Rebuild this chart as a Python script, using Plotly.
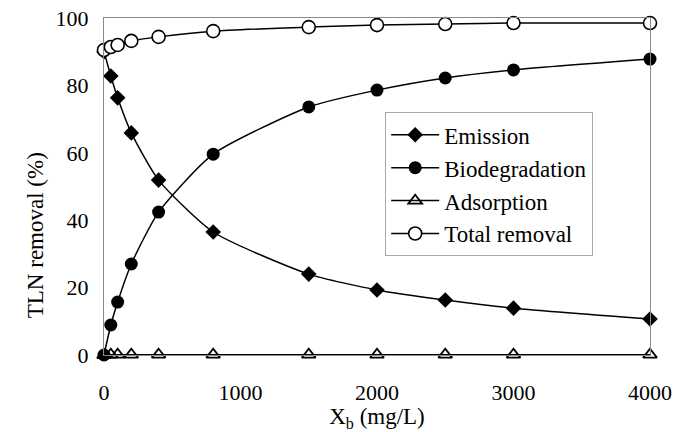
import plotly.graph_objects as go

# Biomass concentration (mg/L)
xb = [0, 50, 100, 200, 400, 800, 1500, 2000, 2500, 3000, 4000]

# TLN fate (%)
emission = [90.0, 82.8, 76.3, 65.9, 51.9, 36.5, 24.0, 19.3, 16.3, 13.9, 10.7]
biodegradation = [0.0, 8.9, 15.7, 27.0, 42.4, 59.6, 73.6, 78.6, 82.2, 84.6, 87.8]
adsorption = [0.0, 0.1, 0.1, 0.1, 0.1, 0.1, 0.1, 0.1, 0.1, 0.1, 0.1]
total_removal = [90.5, 91.4, 92.0, 93.2, 94.4, 96.1, 97.3, 97.9, 98.2, 98.5, 98.5]

FONT = "Liberation Serif"

series = [
    ("Emission", emission, dict(symbol="diamond", size=12, color="black")),
    ("Biodegradation", biodegradation, dict(symbol="circle", size=13, color="black")),
    ("Adsorption", adsorption, dict(symbol="triangle-up-open", size=12, color="black",
                                    line=dict(width=1.8, color="black"))),
    ("Total removal", total_removal, dict(symbol="circle", size=13, color="white",
                                          line=dict(width=1.6, color="black"))),
]

fig = go.Figure()
for name, ys, marker in series:
    fig.add_trace(go.Scatter(
        x=xb, y=ys, name=name, mode="lines+markers",
        line=dict(color="black", width=1.5, shape="spline", smoothing=0.6),
        marker=marker, cliponaxis=False,
    ))

fig.update_layout(
    width=675, height=432,
    margin=dict(l=104, r=25, t=18, b=77, autoexpand=False),
    paper_bgcolor="white", plot_bgcolor="white",
    font=dict(family=FONT, size=22, color="black"),
    showlegend=True,
    legend=dict(
        x=0.515, y=0.72, xanchor="left", yanchor="top",
        bgcolor="rgba(255,255,255,0)",
        bordercolor="#a8a8a8", borderwidth=1,
        font=dict(family=FONT, size=23),
        tracegroupgap=0, itemwidth=48,
    ),
    xaxis=dict(
        range=[0, 4000], tickvals=[0, 1000, 2000, 3000, 4000],
        showgrid=False, zeroline=False, ticks="", automargin=False,
        ticklabelstandoff=18,
        showline=True, linecolor="#8a8a8a", linewidth=1, mirror=True,
        tickfont=dict(family=FONT, size=22),
        title=dict(text="X<sub>b</sub> (mg/L)", font=dict(family=FONT, size=23), standoff=5),
    ),
    yaxis=dict(
        range=[0, 100], tickvals=[0, 20, 40, 60, 80, 100],
        showgrid=False, zeroline=False, ticks="", automargin=False,
        ticklabelstandoff=10,
        showline=True, linecolor="#8a8a8a", linewidth=1, mirror=True,
        tickfont=dict(family=FONT, size=22),
    ),
    annotations=[dict(
        text="TLN removal (%)", textangle=-90, showarrow=False,
        xref="paper", yref="paper", x=-0.126, y=0.356,
        xanchor="center", yanchor="middle",
        font=dict(family=FONT, size=23),
    )],
)

fig.write_html("out.html")
